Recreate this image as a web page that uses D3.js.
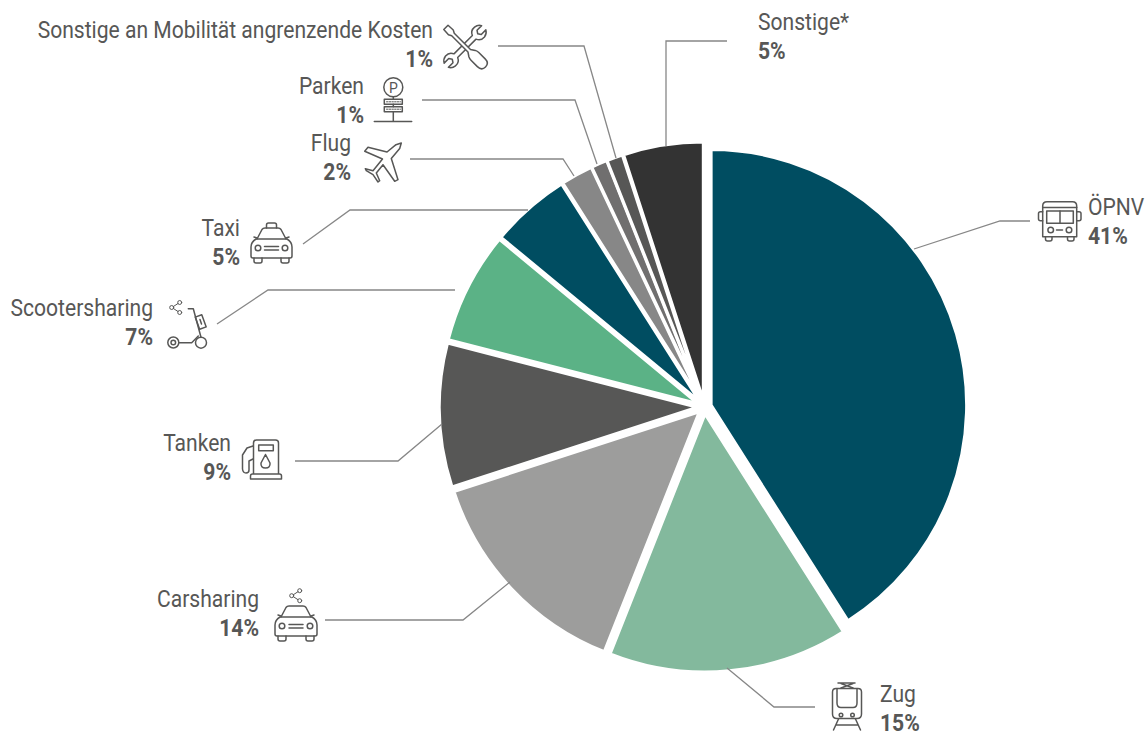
<!DOCTYPE html>
<html><head><meta charset="utf-8">
<script src="https://cdn.jsdelivr.net/npm/d3@7"></script>
<style>html,body{margin:0;background:#fff}svg{display:block}
text{font-family:Roboto,sans-serif;fill:#575756;font-size:23px}</style></head>
<body><svg id="c" width="1148" height="733"></svg>
<script>
const categories=["ÖPNV","Zug","Carsharing","Tanken","Scootersharing","Taxi","Flug","Parken","Sonstige an Mobilität angrenzende Kosten","Sonstige*"];
const percent=[41,15,14,9,7,5,2,1,1,5];
const colors=["#004d61","#83b99d","#9d9d9c","#575756","#5bb286","#004d61","#878787","#706f6f","#575756","#333333"];
const labelPos=[[1088,215,"start"],[880,702,"start"],[259,607,"end"],[231,451,"end"],[153,316,"end"],[240,236,"end"],[351,151,"end"],[364,94,"end"],[433,38,"end"],[758,30,"start"]];
const leaders=[
 [[914,249],[1000,221],[1030,221]],
 [[727,668],[774,707],[815,707]],
 [[510,582],[463,620],[325,620]],
 [[442,424],[398,461],[295,461]],
 [[217,324],[268,290],[455,290]],
 [[303,244],[350,210],[528,210]],
 [[410,159],[563,159],[574,176]],
 [[422,100],[575,100],[597,164]],
 [[498,46],[584,46],[616,158]],
 [[727,41],[666,41],[666,146]]];

const svg=d3.select("#c");
const cx=704.4,cy=407,R=258,Rfirst=255.5,explode=7;
const pie=d3.pie().sort(null).value(d=>d)(percent);
const arc=d3.arc().innerRadius(0);
const g=svg.append("g").attr("transform",`translate(${cx},${cy})`);
g.selectAll("path").data(pie).join("path")
 .attr("d",(d,i)=>arc.outerRadius(i===0?Rfirst:R)(d))
 .attr("fill",(d,i)=>colors[i])
 .attr("stroke","#fff").attr("stroke-width",3).attr("stroke-linejoin","miter")
 .attr("transform",d=>{const a=(d.startAngle+d.endAngle)/2;return `translate(${explode*Math.sin(a)},${-explode*Math.cos(a)})`;});

svg.append("g").selectAll("path").data(leaders).join("path")
 .attr("d",d3.line()).attr("fill","none").attr("stroke","#878787").attr("stroke-width",1.3);

const t=svg.append("g").selectAll("g").data(categories).join("g")
 .attr("transform",(d,i)=>`translate(${labelPos[i][0]},${labelPos[i][1]}) scale(.917,1)`)
 .attr("text-anchor",(d,i)=>labelPos[i][2]);
t.append("text").text(d=>d);
t.append("text").attr("y",29.5).style("font-weight",700).text((d,i)=>percent[i]+"%");

/* pictograms */
const ic=svg.append("g").attr("fill","none").attr("stroke","#575756").attr("stroke-width",1.5).attr("stroke-linejoin","round").attr("stroke-linecap","round");
const P=d=>ic.append("path").attr("d",d);
const C=(x,y,r)=>ic.append("circle").attr("cx",x).attr("cy",y).attr("r",r);
function share(x,y){
 [[0,0],[8,-5],[8,5]].forEach(o=>C(x+o[0],y+o[1],2).attr("stroke-width",1));
 P(`M${x+1.7},${y-1}L${x+6.3},${y-4}M${x+1.7},${y+1}L${x+6.3},${y+4}`).attr("stroke-width",1);
}
function car(x,y,w,taxi){ // x = centre, y = top of roof
 const h=w/2, b=y+11;
 P(`M${x-h+6},${b}L${x-h+11},${y+1.5}Q${x-h+12},${y} ${x-h+14},${y}H${x+h-14}Q${x+h-12},${y} ${x+h-11},${y+1.5}L${x+h-6},${b}`);
 P(`M${x-h+5},${b}H${x+h-5}Q${x+h},${b+3} ${x+h},${b+8}V${b+17}Q${x+h},${b+19} ${x+h-2},${b+19}H${x-h+2}Q${x-h},${b+19} ${x-h},${b+17}V${b+8}Q${x-h},${b+3} ${x-h+5},${b}Z`);
 C(x-h+7,b+9,2.8);C(x+h-7,b+9,2.8);
 P(`M${x-7},${b+7.5}H${x+7}M${x-7},${b+11}H${x+7}`);
 P(`M${x-h+3},${b+19}v3q0,2 2,2h4q2,0 2,-2v-3M${x+h-11},${b+19}v3q0,2 2,2h4q2,0 2,-2v-3`);
 P(`M${x-h+3},${b-2}l3,1M${x+h-3},${b-2}l-3,1`);
 if(taxi)P(`M${x-5},${y}v-3q0,-2 2,-2h6q2,0 2,2v3`);
}
// tools: wrench underneath, screwdriver on top
ic.append("path").attr("transform","translate(465,46.5) rotate(45)")
 .attr("d","M-2.6,-13 Q-7.5,-15 -7,-20.5 Q-6.5,-24.5 -3,-26.5 V-20 L0,-18 L3,-20 V-26.5 Q6.5,-24.5 7,-20.5 Q7.5,-15 2.6,-13 V13 Q7.5,15 7,20.5 Q6.5,24.5 3,26.5 V20 L0,18 L-3,20 V26.5 Q-6.5,24.5 -7,20.5 Q-7.5,15 -2.6,13 Z");
ic.append("path").attr("transform","translate(465,46.5) rotate(-45)").attr("fill","#fff")
 .attr("d","M-3,-27 H3 L3.4,-20 L1.8,-17 V6 L4.5,10 Q5.5,12 5.5,14 V23 Q5.5,29 0,29 Q-5.5,29 -5.5,23 V14 Q-5.5,12 -4.5,10 L-1.8,6 V-17 L-3.4,-20 Z");
// parking
C(393.3,87.3,9.5);
ic.append("text").attr("x",393.3).attr("y",92.5).attr("text-anchor","middle").style("font-size","14px").attr("stroke","none").text("P");
P("M393.3,97V99.3M393.3,104.3V106.7M393.3,111.7V121.5M374.3,121.5H411.7");
ic.append("rect").attr("x",384.3).attr("y",99.3).attr("width",18).attr("height",5);
ic.append("rect").attr("x",384.3).attr("y",106.7).attr("width",18).attr("height",5);
P("M386.5,101.8H400.5M386.5,109.2H400.5").attr("stroke-width",1).attr("stroke-dasharray","1.5 1.2");
// plane
P("M401.3,143L399.7,148.5L391.3,158.5L398,179.7L394.7,181.3L383,164.7L376.3,173L379.7,180.7L378,182L373,174.7L366.3,170.7L365.3,168.7L373,170.7L382.5,159L364.7,151.3L368,147.3L387,152L396,144.7Z");
// taxi, car
car(271.5,228,41,true);
car(296,606,42,false);
share(291.7,595.7);
share(171.7,307.5);
// scooter
C(173.3,342.5,5.5);C(173.3,342.5,2.3);C(201,342.7,5.5);
P("M188.3,308.7H193.3L201,337.2M178.7,342.7H191.7L198.3,336");
ic.append("rect").attr("x",-3.5).attr("y",-6.5).attr("width",7).attr("height",13).attr("transform","translate(200.7,322) rotate(-20)");
P("M200,319.5L201.5,324");
// pump
P("M253.5,474V443Q253.5,440 256.5,440H275.5Q278.5,440 278.5,443V474M250.5,479V476Q250.5,474 252.5,474H279.5Q281.5,474 281.5,476V479Z");
ic.append("rect").attr("x",258.7).attr("y",445).attr("width",14.6).attr("height",5.7);
P("M265.5,454.5L270,463Q270.5,468 265.5,468Q260.5,468 261,463Z");
P("M253,446L247,448L242.5,455V469Q243,473 246,473Q249,473 249,470V461L253,459");
// train
P("M832.5,692Q832.5,688.5 836,688.5H858Q861.5,688.5 861.5,692V714Q861.5,718.5 857,718.5H837Q832.5,718.5 832.5,714Z");
P("M837,689V703Q837,707.5 841,707.5H853Q857,707.5 857,703V689");
C(841,715,1.8);C(852.5,715,1.8);
P("M838.5,719L833.5,730M855.5,719L860.5,730M836.5,725H857.5M838,683H855M841,688L853,683.5M853,688L841,683.5");
// bus
P("M1042.7,236.7V206Q1042.7,201.7 1047,201.7H1072.5Q1076.7,201.7 1076.7,206V236.7Z");
P("M1042.7,207.5H1076.7");
ic.append("rect").attr("x",1046.7).attr("y",211).attr("width",26.6).attr("height",12.3);
P("M1060,211V223.3M1056.5,230H1062.5");
C(1050.7,230,2.8);C(1069,230,2.8);
P("M1042.7,211.7H1040.5Q1038.5,211.7 1038.5,213.5V219Q1038.5,220.7 1040.5,220.7H1042.7M1076.7,211.7H1079Q1081,211.7 1081,213.5V219Q1081,220.7 1079,220.7H1076.7");
P("M1045.5,236.7V239Q1045.5,241 1047.5,241H1050Q1052,241 1052,239V236.7M1067.5,236.7V239Q1067.5,241 1069.5,241H1072Q1074,241 1074,239V236.7");
</script></body></html>
